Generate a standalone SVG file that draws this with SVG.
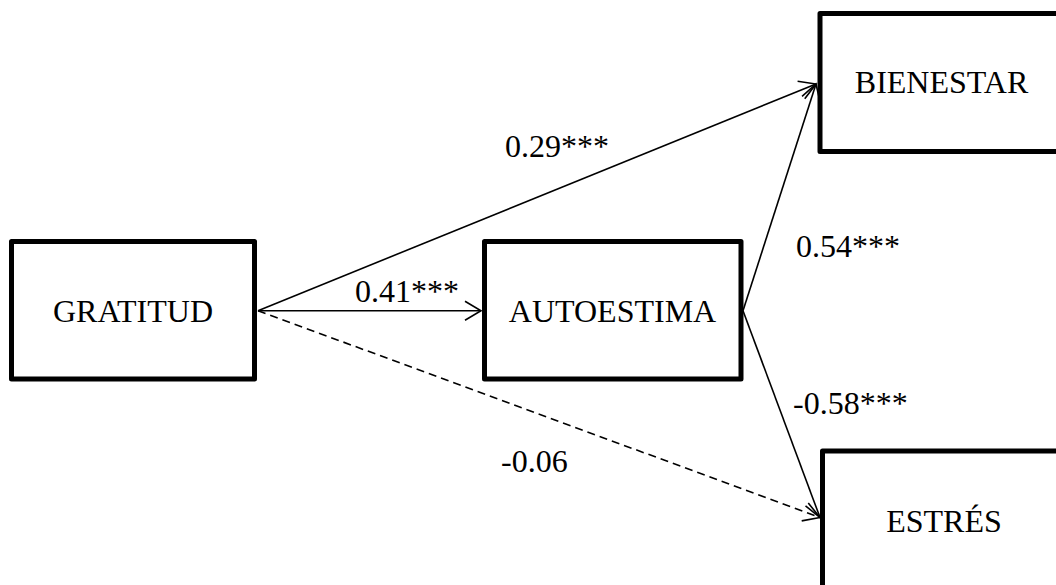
<svg xmlns="http://www.w3.org/2000/svg" width="1056" height="585" viewBox="0 0 1056 585">
<style>
.box{fill:#fff;stroke:#000;stroke-width:5;stroke-linejoin:round}
.lbl{font-family:"Liberation Serif","Times New Roman",serif;font-size:32px;fill:#000}
.node{text-anchor:middle}
.edge{fill:none;stroke:#000;stroke-width:1.6}
.dash{stroke-dasharray:8,5}
</style>
<defs>
<marker id="arr" markerUnits="userSpaceOnUse" markerWidth="24" markerHeight="24" viewBox="-20 -12 24 24" refX="0" refY="0" orient="auto" overflow="visible">
<path d="M-16,-9.5 L0,0 L-16,9.5" fill="none" stroke="#000" stroke-width="1.6"/>
</marker>
</defs>
<rect width="1056" height="585" fill="#fff"/>
<g id="connectors">
<line class="edge" x1="258" y1="310.7" x2="481" y2="310.7" marker-end="url(#arr)"/>
<line class="edge" x1="258" y1="310.7" x2="816" y2="84" marker-end="url(#arr)"/>
<line class="edge" x1="743" y1="310.7" x2="816" y2="84" marker-end="url(#arr)"/>
<line class="edge" x1="743" y1="310.7" x2="820" y2="517.5" marker-end="url(#arr)"/>
<line class="edge dash" x1="258" y1="310.7" x2="820" y2="517.5" marker-end="url(#arr)"/>
<text class="lbl" x="355" y="302.3">0.41***</text>
<text class="lbl" x="505" y="156.7">0.29***</text>
<text class="lbl" x="796" y="257.3">0.54***</text>
<text class="lbl" x="793" y="414">-0.58***</text>
<text class="lbl" x="501" y="471.7">-0.06</text>
</g>
<g id="gratitud">
<rect class="box" x="11.5" y="241.5" width="243" height="137.5"/>
<text class="lbl node" x="133" y="321.7">GRATITUD</text>
</g>
<g id="autoestima">
<rect class="box" x="484.5" y="241.5" width="256.5" height="137.5"/>
<text class="lbl node" x="612.5" y="321.7">AUTOESTIMA</text>
</g>
<g id="bienestar">
<rect class="box" x="820" y="13.5" width="243" height="138"/>
<text class="lbl node" x="941.5" y="93.3">BIENESTAR</text>
</g>
<g id="estres">
<rect class="box" x="822.5" y="451" width="243" height="137.5"/>
<text class="lbl node" x="944" y="531.7">ESTRÉS</text>
</g>
</svg>
